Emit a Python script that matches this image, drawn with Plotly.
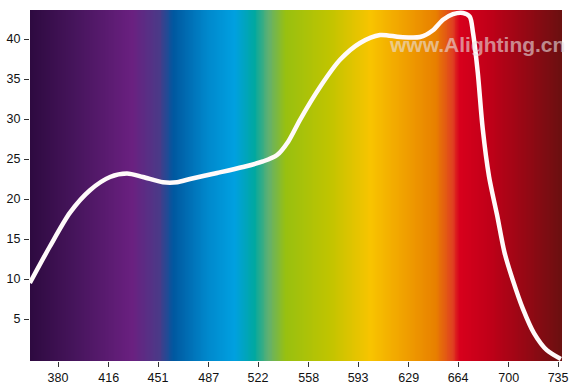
import numpy as np
import plotly.graph_objects as go

# Curve data (wavelength nm, relative intensity)
wavelength = [360, 374, 388.5, 402.7, 416.9, 429, 440.3, 454.5, 464.5, 473.7, 492.9,
              511.3, 525.5, 535.5, 543.5, 551.8, 566, 580.2, 594.4, 608.6, 622.8, 637,
              646.2, 653.3, 660.4, 667.5, 672.3, 674.6, 678, 681.5, 686, 691.7,
              697, 703, 710, 718, 727, 737]
intensity = [9.5, 14.0, 18.3, 21.1, 22.75, 23.2, 22.75, 22.1, 22.1, 22.5, 23.25,
             24.0, 24.7, 25.5, 27.2, 29.9, 34.0, 37.4, 39.5, 40.5, 40.25, 40.25,
             41.1, 42.4, 43.1, 43.25, 42.8, 40.8, 35.8, 28.8, 22.8, 18.0,
             13.3, 9.8, 6.3, 3.2, 1.1, 0.0]

x_ticks = [380, 416, 451, 487, 522, 558, 593, 629, 664, 700, 735]
x_ticktext = ["380", "416", "451", "487", "522", "558", "593", "629", "664", "700", "735"]
y_ticks = [5, 10, 15, 20, 25, 30, 35, 40]

# Spectrum background colours (wavelength, colour)
spec_wl = [360.1, 396.3, 432.5, 451.7, 461.6, 485.8, 505.0, 519.2, 529.1, 541.2,
           572.4, 601.5, 625.7, 647.7, 659.7, 664.7, 686.0, 737.8]
spec_col = ["#2e0a40", "#4a1660", "#6a2080", "#4a3a88", "#0058a0", "#0088cc", "#00a0e0",
            "#00a8a0", "#60b070", "#98c010", "#c0c400", "#f8c400", "#f0a000", "#e88000",
            "#e04020", "#d8001c", "#c00018", "#6a1010"]

x_range = [360.1, 737.8]
y_range = [-0.25, 43.625]

wl_min, wl_max = spec_wl[0], spec_wl[-1]
colorscale = [[(w - wl_min) / (wl_max - wl_min), c] for w, c in zip(spec_wl, spec_col)]
colorscale[0][0] = 0.0
colorscale[-1][0] = 1.0

bx = np.linspace(wl_min, wl_max, 600)
bz = np.vstack([bx, bx])

fig = go.Figure()
fig.add_trace(go.Heatmap(
    x=bx, y=[y_range[0] - 1, y_range[1] + 1], z=bz,
    colorscale=colorscale, zmin=wl_min, zmax=wl_max,
    showscale=False, hoverinfo="skip", zsmooth="best"))
fig.add_trace(go.Scatter(
    x=wavelength, y=intensity, mode="lines",
    line=dict(color="#fffafa", width=4.5, shape="spline", smoothing=0.8),
    hoverinfo="skip"))

fig.add_annotation(
    text="<b>www.Alighting.cn</b>", x=1.01, xref="paper", xanchor="right",
    y=39.3, yref="y", yanchor="middle", showarrow=False,
    font=dict(family="Liberation Sans, Arial", size=21, color="rgba(232,226,226,0.6)"))

fig.update_layout(
    width=587, height=384,
    margin=dict(l=30, r=25, t=10, b=23),
    paper_bgcolor="white", plot_bgcolor="white",
    showlegend=False,
    font=dict(family="Liberation Sans, Arial", size=12.5, color="#111111"),
    xaxis=dict(range=x_range, tickvals=x_ticks, ticktext=x_ticktext,
               ticks="outside", ticklen=5, tickcolor="#333", tickwidth=1,
               showgrid=False, zeroline=False, showline=False, automargin=False),
    yaxis=dict(range=y_range, tickvals=y_ticks, ticks="outside", ticklen=5,
               tickcolor="#333", tickwidth=1, showgrid=False, zeroline=False,
               showline=False, ticklabelstandoff=1, automargin=False),
)

fig.write_html("out.html")
